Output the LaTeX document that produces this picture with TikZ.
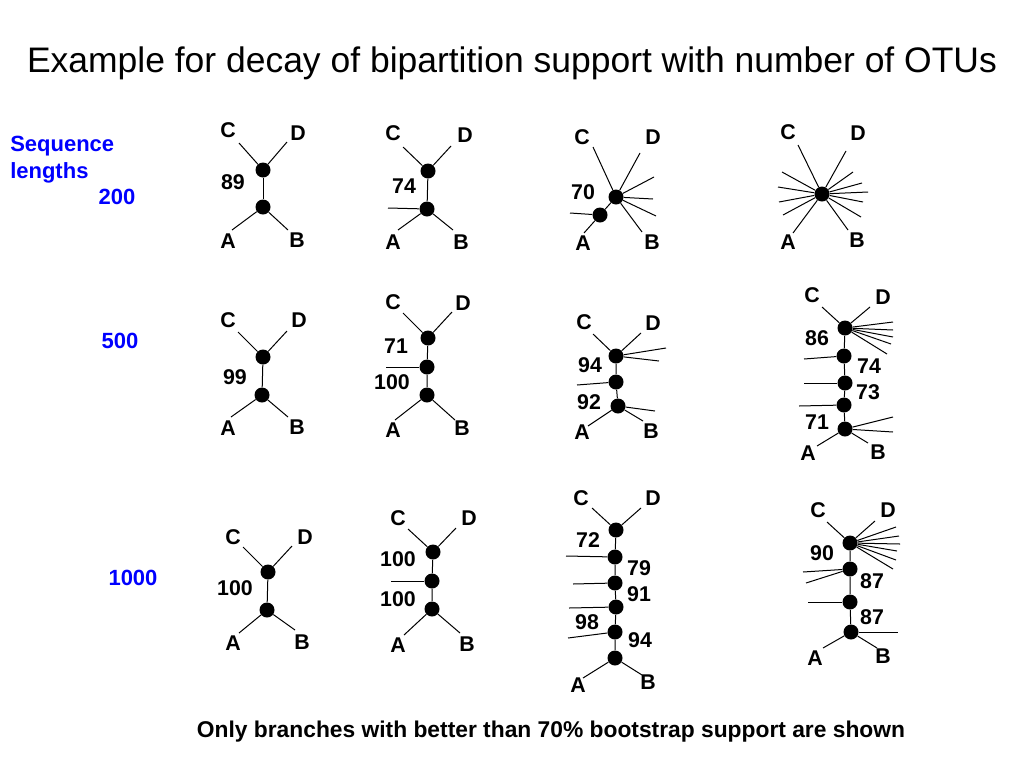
\documentclass[tikz,border=0pt]{standalone}
\usepackage{fontspec}
\setmainfont{Liberation Sans}
\definecolor{seqblue}{RGB}{0,0,255}
\newcommand\twig[3]{\coordinate (#1) at (#3); \draw[branch] (#2) -- (#1);}
\begin{document}
\begin{tikzpicture}[x=0.75pt,y=-0.75pt,
  dot/.style={circle,fill=black,inner sep=0pt,minimum size=11.25pt},
  branch/.style={line width=0.75pt},
  lab/.style={font=\fontsize{16}{19}\selectfont\bfseries,inner sep=0pt},
  seq/.style={font=\fontsize{16.5}{20}\selectfont\bfseries,text=seqblue,inner sep=0pt},
  ttl/.style={font=\fontsize{26.6}{32}\selectfont,inner sep=0pt},
  foot/.style={font=\fontsize{17.1}{20}\selectfont\bfseries,inner sep=0pt}]
\useasboundingbox (0,0) rectangle (1024,768);
\fill[white] (0,0) rectangle (1024,768);

\node[ttl,anchor=base] (title) at (512,72) {Example for decay of bipartition support with number of OTUs};
\node[foot,anchor=base] (foot) at (551,737) {Only branches with better than 70\% bootstrap support are shown};
\node[seq,anchor=base west] (seqa) at (10,151) {Sequence};
\node[seq,anchor=base west] (seqb) at (10,178) {lengths};
\node[seq] (len200) at (117,197) {200};
\node[seq] (len500) at (120,341) {500};
\node[seq] (len1000) at (133,578) {1000};

% ---- Tree 1
\node[dot] (a1) at (263,170) {};
\node[dot] (a2) at (263,207) {};
\draw[branch] (a1) -- (a2);
\twig{a1c}{a1}{239,143}\twig{a1d}{a1}{287,142}
\twig{a2a}{a2}{232,230}\twig{a2b}{a2}{288,230}
\node[lab] (aC) at (228,130) {C};
\node[lab] (aD) at (298,133) {D};
\node[lab] (aA) at (228,241) {A};
\node[lab] (aB) at (297,240) {B};
\node[lab] (an1) at (233,182) {89};

% ---- Tree 2
\node[dot] (b1) at (428,171) {};
\node[dot] (b2) at (427,209) {};
\draw[branch] (b1) -- (b2);
\twig{b1c}{b1}{403,147}\twig{b1d}{b1}{451,146}
\twig{b2x}{b2}{388,208}\twig{b2a}{b2}{398,230}\twig{b2b}{b2}{453,230}
\node[lab] (bC) at (393,133) {C};
\node[lab] (bD) at (465,135) {D};
\node[lab] (bA) at (393,242) {A};
\node[lab] (bB) at (461,242) {B};
\node[lab] (bn1) at (404,186) {74};

% ---- Tree 3
\node[dot] (c1) at (616,197) {};
\node[dot] (c2) at (600,215) {};
\draw[branch] (c1) -- (c2);
\twig{c1c}{c1}{593,147}\twig{c1d}{c1}{640,153}
\twig{c1x}{c1}{654,177}\twig{c1y}{c1}{653,199}\twig{c1z}{c1}{656,216}
\twig{c1b}{c1}{642,232}
\twig{c2x}{c2}{570,213}\twig{c2a}{c2}{584,233}
\node[lab] (cC) at (582,137) {C};
\node[lab] (cD) at (653,137) {D};
\node[lab] (cA) at (583,243) {A};
\node[lab] (cB) at (652,242) {B};
\node[lab] (cn1) at (583,192) {70};

% ---- Tree 4
\node[dot] (d1) at (822,194) {};
\twig{d1c}{d1}{798,145}\twig{d1d}{d1}{846,151}
\twig{d1r1}{d1}{853,172}\twig{d1r2}{d1}{862,183}\twig{d1r3}{d1}{868,192}
\twig{d1r4}{d1}{863,202}\twig{d1r5}{d1}{861,217}
\twig{d1b}{d1}{848,230}\twig{d1a}{d1}{793,233}
\twig{d1l1}{d1}{782,172}\twig{d1l2}{d1}{778,187}\twig{d1l3}{d1}{779,202}\twig{d1l4}{d1}{783,215}
\node[lab] (dC) at (788,132) {C};
\node[lab] (dD) at (858,133) {D};
\node[lab] (dA) at (788,242) {A};
\node[lab] (dB) at (857,240) {B};

% ---- Tree 5
\node[dot] (e1) at (263,357) {};
\node[dot] (e2) at (262,395) {};
\draw[branch] (e1) -- (e2);
\twig{e1c}{e1}{238,332}\twig{e1d}{e1}{287,331}
\twig{e2a}{e2}{231,417}\twig{e2b}{e2}{288,417}
\node[lab] (eC) at (228,320) {C};
\node[lab] (eD) at (299,320) {D};
\node[lab] (eA) at (228,428) {A};
\node[lab] (eB) at (297,427) {B};
\node[lab] (en1) at (235,377) {99};

% ---- Tree 6
\node[dot] (f1) at (428,338) {};
\node[dot] (f2) at (427,367) {};
\node[dot] (f3) at (427,395) {};
\draw[branch] (f1) -- (f2) -- (f3);
\twig{f1c}{f1}{403,313}\twig{f1d}{f1}{452,312}
\twig{f2x}{f2}{386,367}
\twig{f3a}{f3}{395,420}\twig{f3b}{f3}{455,420}
\node[lab] (fC) at (393,302) {C};
\node[lab] (fD) at (463,303) {D};
\node[lab] (fA) at (393,430) {A};
\node[lab] (fB) at (462,428) {B};
\node[lab] (fn1) at (396,346) {71};
\node[lab] (fn2) at (392,382) {100};

% ---- Tree 7
\node[dot] (g1) at (616,356) {};
\node[dot] (g2) at (616,382) {};
\node[dot] (g3) at (618,406) {};
\draw[branch] (g1) -- (g2) -- (g3);
\twig{g1c}{g1}{593,334}\twig{g1d}{g1}{641,333}
\twig{g1x}{g1}{666,348}\twig{g1y}{g1}{659,361}
\twig{g2x}{g2}{577,385}
\twig{g3x}{g3}{655,411}\twig{g3a}{g3}{588,426}\twig{g3b}{g3}{643,421}
\node[lab] (gC) at (584,322) {C};
\node[lab] (gD) at (653,323) {D};
\node[lab] (gA) at (582,432) {A};
\node[lab] (gB) at (651,431) {B};
\node[lab] (gn1) at (590,365) {94};
\node[lab] (gn2) at (589,402) {92};

% ---- Tree 8
\node[dot] (h1) at (845,328) {};
\node[dot] (h2) at (844,356) {};
\node[dot] (h3) at (845,383) {};
\node[dot] (h4) at (844,405) {};
\node[dot] (h5) at (845,429) {};
\draw[branch] (h1) -- (h2) -- (h3) -- (h4) -- (h5);
\twig{h1c}{h1}{822,307}\twig{h1d}{h1}{870,307}
\twig{h1r1}{h1}{893,322}\twig{h1r2}{h1}{893,330}\twig{h1r3}{h1}{893,337}
\twig{h1r4}{h1}{891,344}\twig{h1r5}{h1}{887,354}
\twig{h2x}{h2}{804,359}
\twig{h3x}{h3}{804,383}
\twig{h4x}{h4}{799,406}
\twig{h5r1}{h5}{893,417}\twig{h5r2}{h5}{893,432}
\twig{h5a}{h5}{817,446}\twig{h5b}{h5}{868,443}
\node[lab] (hC) at (812,295) {C};
\node[lab] (hD) at (883,297) {D};
\node[lab] (hA) at (808,453) {A};
\node[lab] (hB) at (878,452) {B};
\node[lab] (hn1) at (817,338) {86};
\node[lab] (hn2) at (869,366) {74};
\node[lab] (hn3) at (868,392) {73};
\node[lab] (hn4) at (817,422) {71};

% ---- Tree 9
\node[dot] (i1) at (268,572) {};
\node[dot] (i2) at (267,610) {};
\draw[branch] (i1) -- (i2);
\twig{i1c}{i1}{243,547}\twig{i1d}{i1}{292,546}
\twig{i2a}{i2}{239,633}\twig{i2b}{i2}{295,630}
\node[lab] (iC) at (233,537) {C};
\node[lab] (iD) at (305,537) {D};
\node[lab] (iA) at (233,643) {A};
\node[lab] (iB) at (302,642) {B};
\node[lab] (in1) at (235,588) {100};

% ---- Tree 10
\node[dot] (j1) at (433,552) {};
\node[dot] (j2) at (432,581) {};
\node[dot] (j3) at (432,609) {};
\draw[branch] (j1) -- (j2) -- (j3);
\twig{j1c}{j1}{408,529}\twig{j1d}{j1}{456,528}
\twig{j2x}{j2}{391,581}
\twig{j3a}{j3}{404,635}\twig{j3b}{j3}{460,633}
\node[lab] (jC) at (398,518) {C};
\node[lab] (jD) at (469,518) {D};
\node[lab] (jA) at (398,645) {A};
\node[lab] (jB) at (467,644) {B};
\node[lab] (jn1) at (398,559) {100};
\node[lab] (jn2) at (398,599) {100};

% ---- Tree 11
\node[dot] (k1) at (616,530) {};
\node[dot] (k2) at (615,557) {};
\node[dot] (k3) at (615,583) {};
\node[dot] (k4) at (616,607) {};
\node[dot] (k5) at (615,632) {};
\node[dot] (k6) at (615,658) {};
\draw[branch] (k1) -- (k2) -- (k3) -- (k4) -- (k5) -- (k6);
\twig{k1c}{k1}{592,508}\twig{k1d}{k1}{641,508}
\twig{k2x}{k2}{566,556}
\twig{k3x}{k3}{573,584}
\twig{k4x}{k4}{569,608}
\twig{k5x}{k5}{568,638}
\twig{k6a}{k6}{583,678}\twig{k6b}{k6}{642,675}
\node[lab] (kC) at (581,498) {C};
\node[lab] (kD) at (653,498) {D};
\node[lab] (kA) at (578,685) {A};
\node[lab] (kB) at (648,682) {B};
\node[lab] (kn1) at (588,540) {72};
\node[lab] (kn2) at (639,568) {79};
\node[lab] (kn3) at (639,594) {91};
\node[lab] (kn4) at (587,622) {98};
\node[lab] (kn5) at (640,640) {94};

% ---- Tree 12
\node[dot] (l1) at (850,543) {};
\node[dot] (l2) at (850,569) {};
\node[dot] (l3) at (850,602) {};
\node[dot] (l4) at (851,632) {};
\draw[branch] (l1) -- (l2) -- (l3) -- (l4);
\twig{l1c}{l1}{827,522}\twig{l1d}{l1}{875,521}
\twig{l1r1}{l1}{896,527}\twig{l1r2}{l1}{899,536}\twig{l1r3}{l1}{900,544}
\twig{l1r4}{l1}{897,551}\twig{l1r5}{l1}{896,560}\twig{l1r6}{l1}{893,569}
\twig{l2x}{l2}{803,572}\twig{l2y}{l2}{806,583}
\twig{l3x}{l3}{808,602}
\twig{l4x}{l4}{898,632}\twig{l4a}{l4}{823,648}\twig{l4b}{l4}{877,648}
\node[lab] (lC) at (818,510) {C};
\node[lab] (lD) at (888,510) {D};
\node[lab] (lA) at (815,658) {A};
\node[lab] (lB) at (883,656) {B};
\node[lab] (ln1) at (822,553) {90};
\node[lab] (ln2) at (872,581) {87};
\node[lab] (ln3) at (872,617) {87};
\end{tikzpicture}
\end{document}
